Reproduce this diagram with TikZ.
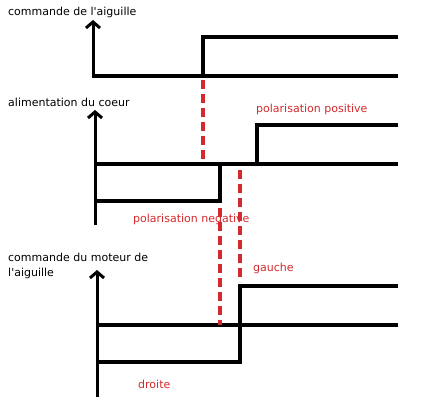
\documentclass[tikz,border=0pt]{standalone}
\usepackage{fontspec}
\newfontfamily\police{DejaVu Sans}
\usetikzlibrary{arrows.meta}
\definecolor{rouge}{RGB}{212,42,46}
\tikzset{
  axe/.style={line width=3pt,-{Straight Barb[length=6pt,width=14pt,line width=3pt]}},
  base/.style={line width=4.5pt},
  signal/.style={line width=3.2pt},
  repere/.style={rouge,line width=3.2pt,dash pattern=on 9pt off 5pt},
  titre/.style={anchor=west,inner sep=0pt,font=\police\fontsize{11}{15}\selectfont},
  etiquette/.style={titre,text=rouge}
}
\begin{document}
\begin{tikzpicture}[x=1pt,y=-1pt]
  \useasboundingbox[fill=white] (0,0) rectangle (428,414);
  % axes et lignes de base
  \foreach[count=\i] \x/\haut/\y/\bas in {93/20/76/76,95/110/164/225,97/270/325/397} {
    \coordinate (o\i) at (\x,\y);
    \draw[axe] (\x,\bas) -- (\x,\haut);
    \draw[base] (\x-1,\y) -- (398,\y);
  }
  \node[titre] (t1) at (8,12) {commande de l'aiguille};
  \node[titre] (t2) at (8,102) {alimentation du coeur};
  \node[titre,align=left] (t3) at (8,266) {commande du moteur de\\l'aiguille};

  % commande de l'aiguille
  \draw[signal] (203,76) -- (203,37) -- (398,37);
  % alimentation du coeur
  \draw[signal] (257,164) -- (257,125) -- (398,125);
  \draw[signal] (95,201) -- (220,201) -- (220,164);
  \node[etiquette] (pos) at (256,109) {polarisation positive};
  \node[etiquette] (neg) at (133,219) {polarisation negative};
  % commande du moteur
  \draw[signal] (98,362) -- (240,362) -- (240,286) -- (398,286);
  \node[etiquette] (g) at (253,268) {gauche};
  \node[etiquette] (d) at (138,384) {droite};

  % reperes
  \coordinate (r1) at (203,80);
  \coordinate (r2) at (220,208);
  \coordinate (r3) at (240,170);
  \draw[repere] (r1) -- (203,163);
  \draw[repere] (r2) -- (220,325);
  \draw[repere] (r3) -- (240,282);
\end{tikzpicture}
\end{document}
